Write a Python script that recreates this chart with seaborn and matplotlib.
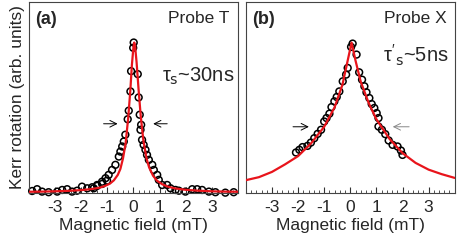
import numpy as np
import pandas as pd
import seaborn as sns
import matplotlib.pyplot as plt
from matplotlib.ticker import MultipleLocator, FixedLocator

# Panel (a): probe T, measured points
a_field = [-3.88, -3.69, -3.50, -3.25, -2.92, -2.73, -2.54, -2.35, -2.16, -1.97,
           -1.77, -1.58, -1.52, -1.39, -1.39, -1.20, -1.20, -1.07, -1.01, -0.95,
           -0.82, -0.69, -0.56, -0.50, -0.43, -0.37, -0.31, -0.22, -0.18, -0.115,
           -0.09, -0.01, 0.01, 0.165, 0.20, 0.24, 0.27, 0.295, 0.33, 0.39,
           0.46, 0.52, 0.59, 0.72, 0.78, 0.91, 0.97, 1.10, 1.29, 1.42,
           1.61, 1.74, 1.99, 2.25, 2.44, 2.63, 2.89, 3.14, 3.52, 3.84]
a_kerr = [0.013, 0.025, 0.009, 0.005, 0.009, 0.020, 0.025, 0.009, 0.015, 0.042,
          0.031, 0.038, 0.031, 0.047, 0.053, 0.060, 0.075, 0.098, 0.082, 0.120,
          0.153, 0.187, 0.242, 0.275, 0.309, 0.342, 0.387, 0.490, 0.547, 0.675,
          0.810, 0.965, 1.000, 0.790, 0.635, 0.520, 0.420, 0.453, 0.353, 0.320,
          0.287, 0.253, 0.220, 0.187, 0.153, 0.120, 0.087, 0.053, 0.053, 0.031,
          0.020, 0.015, 0.009, 0.025, 0.025, 0.020, 0.009, 0.005, 0.002, 0.005]

# Panel (a): fitted curve
a_fit_field = [-4.0, -3.5, -3.0, -2.5, -2.0, -1.6, -1.3, -1.1, -0.9, -0.75, -0.6,
               -0.5, -0.4, -0.3, -0.2, -0.12, -0.06, 0.0, 0.03, 0.06, 0.12, 0.2,
               0.28, 0.38, 0.5, 0.6, 0.75, 0.9, 1.1, 1.3, 1.6, 2.0, 2.5, 3.0,
               3.5, 4.0]
a_fit_kerr = [0.008, 0.009, 0.011, 0.014, 0.019, 0.026, 0.035, 0.046, 0.062, 0.084,
              0.12, 0.16, 0.23, 0.33, 0.50, 0.68, 0.85, 0.97, 1.0, 0.98, 0.87,
              0.68, 0.51, 0.35, 0.23, 0.17, 0.115, 0.082, 0.058, 0.043, 0.030,
              0.021, 0.015, 0.011, 0.009, 0.008]

# Panel (b): probe X, measured points
b_field = [-2.08, -1.95, -1.83, -1.64, -1.51, -1.38, -1.25, -1.12, -1.00, -0.91,
           -0.80, -0.72, -0.61, -0.52, -0.42, -0.29, -0.16, -0.10, 0.03, 0.09,
           0.24, 0.34, 0.45, 0.54, 0.62, 0.73, 0.82, 0.92, 1.01, 1.08, 1.08,
           1.21, 1.34, 1.47, 1.62, 1.81, 1.94, 2.00]
b_kerr = [0.269, 0.287, 0.305, 0.313, 0.335, 0.364, 0.393, 0.420, 0.475, 0.498,
          0.527, 0.571, 0.609, 0.638, 0.675, 0.742, 0.787, 0.831, 0.971, 0.993,
          0.920, 0.802, 0.753, 0.709, 0.669, 0.631, 0.591, 0.565, 0.531, 0.498,
          0.442, 0.420, 0.391, 0.349, 0.320, 0.309, 0.282, 0.253]

# Panel (b): fitted curve
b_fit_field = [-4.0, -3.5, -3.0, -2.5, -2.0, -1.5, -1.0, -0.6, -0.3, -0.1, 0.05,
               0.2, 0.4, 0.7, 1.0, 1.5, 2.0, 2.5, 3.0, 3.5, 4.0]
b_fit_kerr = [0.085, 0.105, 0.14, 0.19, 0.245, 0.33, 0.44, 0.57, 0.72, 0.88, 1.0,
              0.88, 0.74, 0.60, 0.49, 0.36, 0.265, 0.20, 0.155, 0.125, 0.10]

sns.set_theme(style="ticks")
plt.rcParams['font.family'] = ['Liberation Sans', 'DejaVu Sans']
plt.rcParams['mathtext.fontset'] = 'custom'
plt.rcParams['mathtext.rm'] = 'Liberation Sans'
plt.rcParams['mathtext.it'] = 'Liberation Sans'
plt.rcParams['mathtext.bf'] = 'Liberation Sans:bold'
plt.rcParams['axes.unicode_minus'] = False

fig = plt.figure(figsize=(4.57, 2.40), dpi=100)
ax_a = fig.add_axes([0.0635, 0.196, 0.457, 0.796])
ax_b = fig.add_axes([0.538, 0.196, 0.457, 0.796])

panels = [
    (ax_a, a_field, a_kerr, a_fit_field, a_fit_kerr, "(a)", "Probe T"),
    (ax_b, b_field, b_kerr, b_fit_field, b_fit_kerr, "(b)", "Probe X"),
]

for ax, fx, fy, cx, cy, tag, probe in panels:
    pts = pd.DataFrame({"field": fx, "kerr": fy})
    fit = pd.DataFrame({"field": cx, "kerr": cy})
    sns.scatterplot(data=pts, x="field", y="kerr", ax=ax, marker="o", s=24,
                    facecolors="none", edgecolor="black", linewidth=1.1,
                    clip_on=False, zorder=2)
    sns.lineplot(data=fit, x="field", y="kerr", ax=ax, color="#e8141b",
                 linewidth=1.6, sort=False, zorder=3)
    ax.set_xlim(-4, 4)
    ax.set_ylim(0, 1.27)
    ax.xaxis.set_major_locator(FixedLocator([-3, -2, -1, 0, 1, 2, 3]))
    ax.xaxis.set_minor_locator(MultipleLocator(0.2))
    ax.tick_params(axis="x", which="major", direction="in", length=4, width=0.8,
                   labelsize=12.5, pad=5, color="#333333")
    ax.tick_params(axis="x", which="minor", direction="in", length=2, width=0.6,
                   color="#333333")
    ax.set_yticks([])
    for sp in ax.spines.values():
        sp.set_visible(True)
        sp.set_linewidth(0.8)
        sp.set_color("#444444")
    ax.set_xlabel("Magnetic field (mT)", fontsize=12.5, labelpad=2)
    ax.set_ylabel("")
    ax.text(0.03, 0.955, tag, transform=ax.transAxes, fontsize=13,
            fontweight="bold", va="top", ha="left")
    ax.text(0.96, 0.955, probe, transform=ax.transAxes, fontsize=12.5,
            va="top", ha="right")

ax_a.set_ylabel("Kerr rotation (arb. units)", fontsize=12.5, labelpad=3)

ax_a.text(0.985, 0.61, r"$\tau_{\mathsf{s}}$~30ns", transform=ax_a.transAxes,
          fontsize=14.5, ha="right", va="center")
ax_b.text(0.97, 0.72, r"$\tau'_{\mathsf{s}}$~5ns", transform=ax_b.transAxes,
          fontsize=14.5, ha="right", va="center")

arrow = dict(arrowstyle="->", color="black", lw=0.7)
ax_a.annotate("", xy=(-0.5, 0.46), xytext=(-1.25, 0.46), arrowprops=arrow)
ax_a.annotate("", xy=(0.65, 0.46), xytext=(1.4, 0.46), arrowprops=arrow)
ax_b.annotate("", xy=(-1.48, 0.44), xytext=(-2.3, 0.44), arrowprops=arrow)
ax_b.annotate("", xy=(1.52, 0.44), xytext=(2.36, 0.44),
              arrowprops=dict(arrowstyle="->", color="#888888", lw=0.7))

fig.savefig("out.png", dpi=100)
